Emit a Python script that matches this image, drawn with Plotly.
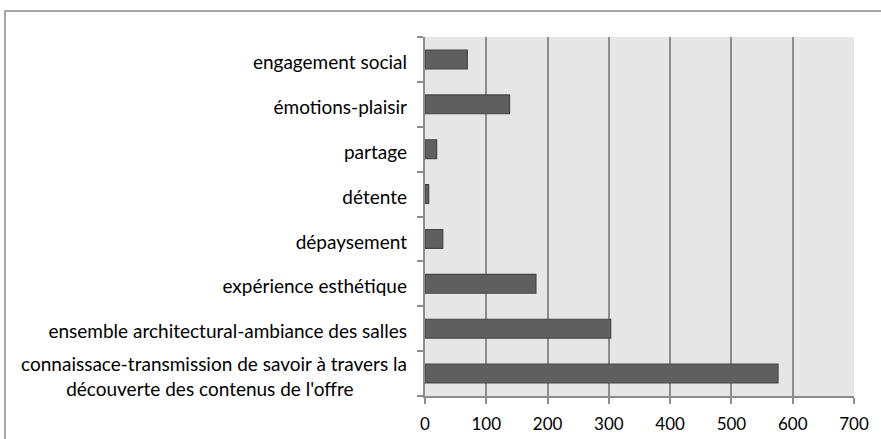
import plotly.graph_objects as go

categories = [
    "connaissace-transmission de savoir à travers la<br>découverte des contenus de l'offre" + "\u00a0" * 11,
    "ensemble architectural-ambiance des salles",
    "expérience esthétique",
    "dépaysement",
    "détente",
    "partage",
    "émotions-plaisir",
    "engagement social",
]
values = [576, 303, 181, 29, 6, 19, 138, 69]
x_ticks = [0, 100, 200, 300, 400, 500, 600, 700]

pos = list(range(len(categories)))
FONT = "Lato"
GRID = "#8c8c8c"

W, H = 881, 439
ML, MR, MT, MB = 425, 27, 37, 43
PW, PH = W - ML - MR, H - MT - MB
D = 3 / (PH / len(categories))  # small downward shift of category labels

fig = go.Figure()
fig.add_trace(go.Bar(
    x=values, y=pos, orientation="h",
    marker=dict(color="#5f5f5f", line=dict(color="#454545", width=1.2)),
    showlegend=False, hoverinfo="x",
))
fig.add_trace(go.Scatter(x=[None], y=[None], yaxis="y2", showlegend=False))

fig.update_layout(
    template="none",
    width=W, height=H,
    margin=dict(l=ML, r=MR, t=MT, b=MB, autoexpand=False),
    paper_bgcolor="white",
    plot_bgcolor="#e6e6e6",
    bargap=0.58,
    font=dict(family=FONT, size=19, color="#000000"),
    xaxis=dict(
        range=[0, 700], tickvals=x_ticks, ticks="outside", ticklen=6,
        tickcolor=GRID, tickwidth=2, showline=True, linecolor=GRID, linewidth=2,
        showgrid=True, gridcolor=GRID, gridwidth=2, zeroline=False,
        ticklabelstandoff=6, automargin=False,
        tickfont=dict(family=FONT, size=17, color="#000"),
    ),
    yaxis=dict(
        range=[-0.5, 7.5], tickvals=[i + 0.5 for i in range(-1, 8)],
        ticks="outside", ticklen=6, tickcolor=GRID, tickwidth=2,
        showticklabels=False, showline=True, linecolor=GRID, linewidth=2,
        showgrid=False, zeroline=False, automargin=False,
    ),
    yaxis2=dict(
        range=[-0.5 + D, 7.5 + D], overlaying="y", side="left",
        tickvals=pos, ticktext=categories, ticks="",
        showline=False, showgrid=False, zeroline=False, automargin=False,
        ticklabelstandoff=17,
        tickfont=dict(family=FONT, size=19, color="#000"),
    ),
    shapes=[dict(
        type="rect", xref="paper", yref="paper",
        x0=(5 - ML) / PW, x1=(W + 20 - ML) / PW,
        y0=(H - MB - 11) / PH, y1=(H - MB - 460) / PH,
        line=dict(color="#8a8a8a", width=1.5), fillcolor="rgba(0,0,0,0)", layer="below",
    )],
)

fig.write_html(
    "out.html",
    config={"displayModeBar": False, "staticPlot": True},
    post_script="document.body.style.margin='0';",
)
